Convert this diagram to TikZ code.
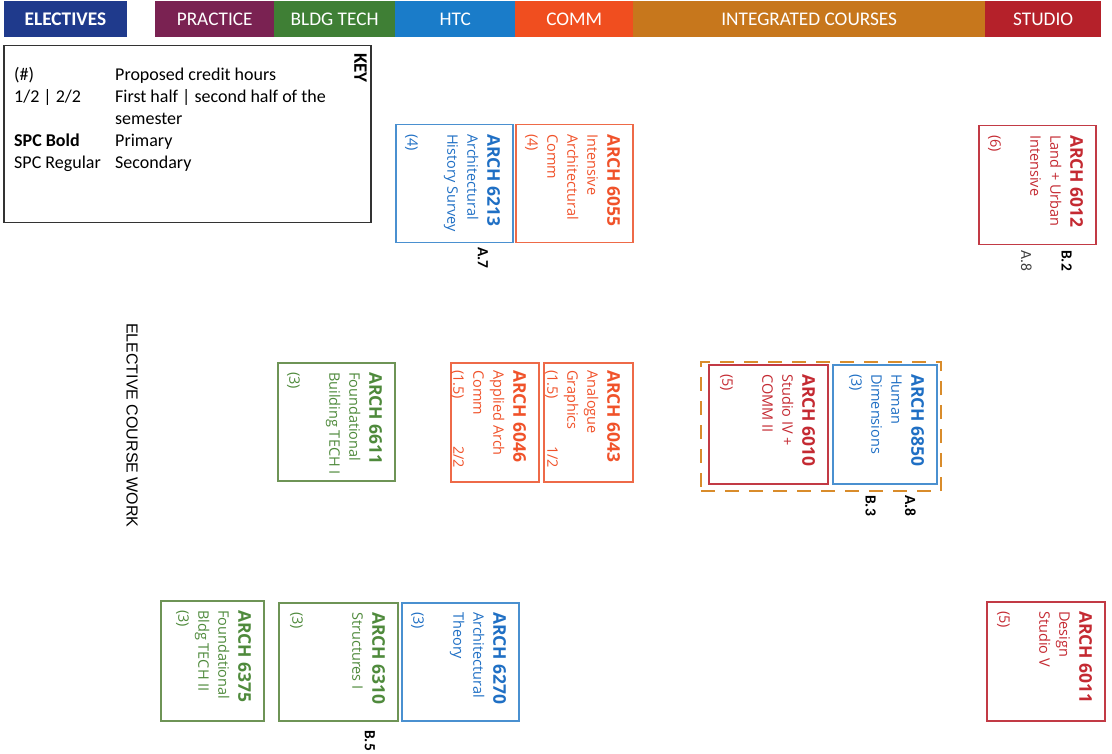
\documentclass[tikz,border=0pt]{standalone}
\usepackage{fontspec}
\setmainfont{Open Sans}
\newfontfamily\calib{Carlito}
\newfontfamily\arialf{Liberation Sans}
\definecolor{cElec}{HTML}{1F3A8C}
\definecolor{cPrac}{HTML}{7A2252}
\definecolor{cBldg}{HTML}{3F7F35}
\definecolor{cHtc}{HTML}{1A7CC9}
\definecolor{cComm}{HTML}{F04E1F}
\definecolor{cInt}{HTML}{C7771C}
\definecolor{cStu}{HTML}{B5212A}
\definecolor{tBlue}{HTML}{1F6FC4}
\definecolor{tOrange}{HTML}{F0522A}
\definecolor{tRed}{HTML}{C42A32}
\definecolor{tGreen}{HTML}{4F8A3C}
\definecolor{bBlue}{HTML}{4A90D0}
\definecolor{bOrange}{HTML}{EE6A48}
\definecolor{bRed}{HTML}{C23A45}
\definecolor{bGreen}{HTML}{6E9456}
\definecolor{dashC}{HTML}{D98C2B}
\newcommand\hd[1]{{\fontsize{17.5}{20}\selectfont\bfseries #1}}
\tikzset{
  bar/.style={fill=#1, anchor=north west, minimum height=36pt, inner sep=0pt, text=white,
    font=\calib\fontsize{19.3}{22}\selectfont},
  cbox/.style={draw=#1, line width=1.5pt, anchor=north west, inner sep=0pt},
  ctext/.style={text=#1, rotate=-90, anchor=north west, align=left, inner sep=0pt,
    font=\fontsize{14.5}{20}\selectfont},
  keytxt/.style={anchor=base west, inner sep=0pt, font=\calib\fontsize{18}{22}\selectfont},
  spc/.style={rotate=-90, anchor=north west, inner sep=0pt, font=\calib\fontsize{15.5}{18}\selectfont\bfseries},
}
\begin{document}
\begin{tikzpicture}[x=1pt,y=-1pt]
\useasboundingbox (0,0) rectangle (1112,754);
% header bars
\node[bar=cElec, minimum width=123.5pt] (hElec) at (3.5,1) {\bfseries ELECTIVES};
\node[bar=cPrac, minimum width=119pt] (hPrac) at (155,1) {PRACTICE};
\node[bar=cBldg, minimum width=121pt] (hBldg) at (274,1) {BLDG TECH};
\node[bar=cHtc, minimum width=120pt] (hHtc) at (395,1) {HTC};
\node[bar=cComm, minimum width=118pt] (hComm) at (515,1) {COMM};
\node[bar=cInt, minimum width=352pt] (hInt) at (633,1) {INTEGRATED COURSES};
\node[bar=cStu, minimum width=116pt] (hStu) at (985,1) {STUDIO};
% key
\node[draw=black!80, line width=1.5pt, anchor=north west, minimum width=367pt, minimum height=177pt, inner sep=0pt] (key) at (3,45) {};
\node[rotate=-90, anchor=north west, inner sep=0pt, font=\calib\fontsize{19}{22}\selectfont\bfseries] (keyt) at (367,53) {KEY};
\node[keytxt] (k1a) at (14,81) {(\#)};
\node[keytxt] (k1b) at (115,81) {Proposed credit hours};
\node[keytxt] (k2a) at (14,103) {1/2 | 2/2};
\node[keytxt] (k2b) at (115,103) {First half | second half of the};
\node[keytxt] (k3b) at (115,125) {semester};
\node[keytxt] (k4a) at (14,147) {\bfseries SPC Bold};
\node[keytxt] (k4b) at (115,147) {Primary};
\node[keytxt] (k5a) at (14,169) {SPC Regular};
\node[keytxt] (k5b) at (115,169) {Secondary};
% elective course work
\node[rotate=-90, anchor=north west, inner sep=0pt, font=\arialf\fontsize{16}{19}\selectfont] (ecw) at (138,323) {ELECTIVE COURSE WORK};
% row 1
\node[cbox=bBlue, minimum width=117pt, minimum height=118pt] (b6213) at (395,124) {};
\node[ctext=tBlue] (t6213) at ([xshift=-13.2pt,yshift=-10pt]b6213.north east) {\hd{ARCH 6213}\\Architectural\\History Survey\\[20pt](4)};
\node[cbox=bOrange, minimum width=117pt, minimum height=118pt] (b6055) at (515,124) {};
\node[ctext=tOrange] (t6055) at ([xshift=-13.2pt,yshift=-10pt]b6055.north east) {\hd{ARCH 6055}\\Intensive\\Architectural\\Comm\\(4)};
\node[cbox=bRed, minimum width=117pt, minimum height=119pt] (b6012) at (978,125) {};
\node[ctext=tRed] (t6012) at ([xshift=-13.2pt,yshift=-10pt]b6012.north east) {\hd{ARCH 6012}\\Land + Urban\\Intensive\\[20pt](6)};
\node[spc] (lA7) at (488,247) {A.7};
\node[spc] (lB2) at (1072,250) {B.2};
\node[spc, font=\calib\fontsize{15.5}{18}\selectfont, text=black!75] (lA8a) at (1032,250) {A.8};
% row 2
\node[cbox=bGreen, minimum width=117pt, minimum height=118pt] (b6611) at (277,362) {};
\node[ctext=tGreen] (t6611) at ([xshift=-13.2pt,yshift=-10pt]b6611.north east) {\hd{ARCH 6611}\\Foundational\\Building TECH I\\[20pt](3)};
\node[cbox=bOrange, minimum width=88pt, minimum height=119pt] (b6046) at (450,362) {};
\node[ctext=tOrange] (t6046) at ([xshift=-13.2pt,yshift=-8pt]b6046.north east) {\hd{ARCH 6046}\\Applied Arch\\Comm\\\makebox[98pt][l]{(1.5)\hfill 2/2}};
\node[cbox=bOrange, minimum width=89pt, minimum height=119pt] (b6043) at (543,362) {};
\node[ctext=tOrange] (t6043) at ([xshift=-13.2pt,yshift=-8pt]b6043.north east) {\hd{ARCH 6043}\\Analogue\\Graphics\\\makebox[98pt][l]{(1.5)\hfill 1/2}};
\node[draw=dashC, line width=2pt, dash pattern=on 14pt off 10pt, anchor=north west, minimum width=240pt, minimum height=129pt, inner sep=0pt] (grp) at (700,361) {};
\node[cbox=bRed, minimum width=119pt, minimum height=119pt] (b6010) at (708,364) {};
\node[ctext=tRed] (t6010) at ([xshift=-13.2pt,yshift=-10pt]b6010.north east) {\hd{ARCH 6010}\\Studio IV +\\COMM II\\[20pt](5)};
\node[cbox=bBlue, minimum width=104pt, minimum height=119pt] (b6850) at (832,364) {};
\node[ctext=tBlue] (t6850) at ([xshift=-13.2pt,yshift=-10pt]b6850.north east) {\hd{ARCH 6850}\\Human\\Dimensions\\(3)};
\node[spc] (lA8b) at (916,495) {A.8};
\node[spc] (lB3) at (876,495) {B.3};
% row 3
\node[cbox=bGreen, minimum width=103pt, minimum height=120pt] (b6375) at (160,600) {};
\node[ctext=tGreen] (t6375) at ([xshift=-13.2pt,yshift=-10pt]b6375.north east) {\hd{ARCH 6375}\\Foundational\\Bldg TECH II\\(3)};
\node[cbox=bGreen, minimum width=119pt, minimum height=118pt] (b6310) at (278,602) {};
\node[ctext=tGreen] (t6310) at ([xshift=-13.2pt,yshift=-10pt]b6310.north east) {\hd{ARCH 6310}\\Structures I\\[40pt](3)};
\node[cbox=bBlue, minimum width=117pt, minimum height=118pt] (b6270) at (401,602) {};
\node[ctext=tBlue] (t6270) at ([xshift=-13.2pt,yshift=-10pt]b6270.north east) {\hd{ARCH 6270}\\Architectural\\Theory\\[20pt](3)};
\node[spc] (lB5) at (375,730) {B.5};
\node[cbox=bRed, minimum width=118pt, minimum height=119pt] (b6011) at (986,601) {};
\node[ctext=tRed] (t6011) at ([xshift=-13.2pt,yshift=-10pt]b6011.north east) {\hd{ARCH 6011}\\Design\\Studio V\\[20pt](5)};
\end{tikzpicture}
\end{document}
